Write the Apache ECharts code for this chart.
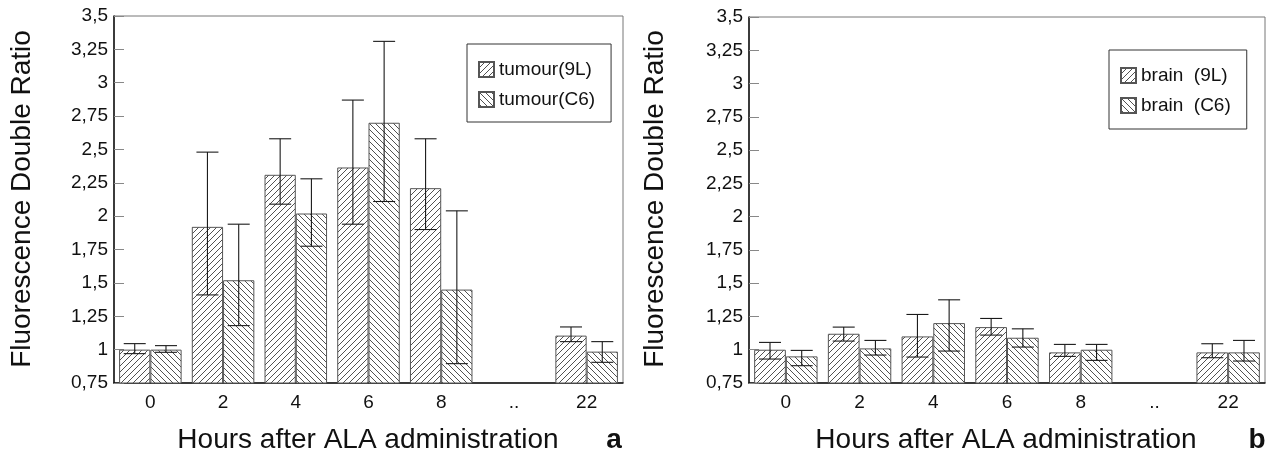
<!DOCTYPE html>
<html>
<head>
<meta charset="utf-8">
<script src="https://cdn.jsdelivr.net/npm/echarts@6/dist/echarts.min.js"></script>
<style>
html, body { margin: 0; padding: 0; background: #fff; }
#charts { width: 1271px; height: 455px; }
</style>
</head>
<body>
<div id="charts"></div>
<script>
var categories = ['0', '2', '4', '6', '8', '..', '22'];
var tickLabels = ['0,75', '1', '1,25', '1,5', '1,75', '2', '2,25', '2,5', '2,75', '3', '3,25', '3,5'];

// panel a: tumour
var tumour9L = [1.0, 1.92, 2.31, 2.365, 2.21, '-', 1.105];
var tumour9LHi = [1.045, 2.48, 2.58, 2.87, 2.58, '-', 1.17];
var tumour9LLo = [0.97, 1.41, 2.09, 1.94, 1.90, '-', 1.06];
var tumourC6 = [1.0, 1.52, 2.02, 2.70, 1.45, '-', 0.985];
var tumourC6Hi = [1.03, 1.94, 2.28, 3.31, 2.04, '-', 1.06];
var tumourC6Lo = [0.98, 1.18, 1.775, 2.11, 0.895, '-', 0.905];

// panel b: brain
var brain9L = [1.0, 1.12, 1.10, 1.17, 0.98, '-', 0.98];
var brain9LHi = [1.055, 1.17, 1.265, 1.235, 1.04, '-', 1.045];
var brain9LLo = [0.93, 1.065, 0.945, 1.11, 0.95, '-', 0.94];
var brainC6 = [0.95, 1.01, 1.20, 1.09, 1.0, '-', 0.98];
var brainC6Hi = [0.995, 1.07, 1.375, 1.157, 1.04, '-', 1.07];
var brainC6Lo = [0.88, 0.96, 0.99, 1.02, 0.92, '-', 0.915];

var FONT = "'Liberation Sans', Arial, sans-serif";
var GAP = 0.14;

function hatch(dir) {
	var s = 6;
	var c = document.createElement('canvas');
	c.width = s; c.height = s;
	var g = c.getContext('2d');
	g.fillStyle = '#fff';
	g.fillRect(0, 0, s, s);
	g.strokeStyle = '#333';
	g.lineWidth = 0.85;
	g.beginPath();
	if (dir > 0) {
		g.moveTo(0, s); g.lineTo(s, 0);
		g.moveTo(-1, 1); g.lineTo(1, -1);
		g.moveTo(s - 1, s + 1); g.lineTo(s + 1, s - 1);
	} else {
		g.moveTo(0, 0); g.lineTo(s, s);
		g.moveTo(s - 1, -1); g.lineTo(s + 1, 1);
		g.moveTo(-1, s - 1); g.lineTo(1, s + 1);
	}
	g.stroke();
	return { image: c, repeat: 'repeat' };
}

function errData(lo, hi) {
	var out = [];
	for (var i = 0; i < lo.length; i++) {
		if (lo[i] === '-') continue;
		out.push([i, lo[i], hi[i]]);
	}
	return out;
}

function errRender(sign) {
	return function (params, api) {
		var a = api.coord([api.value(0), api.value(1)]);
		var b = api.coord([api.value(0), api.value(2)]);
		var band = api.size([1, 0])[0];
		var x = a[0] + sign * band * (1 - GAP) / 4;
		var w = 11;
		var st = { stroke: '#1a1a1a', lineWidth: 1.1 };
		return {
			type: 'group',
			children: [
				{ type: 'line', shape: { x1: x, y1: a[1], x2: x, y2: b[1] }, style: st },
				{ type: 'line', shape: { x1: x - w, y1: b[1], x2: x + w, y2: b[1] }, style: st },
				{ type: 'line', shape: { x1: x - w, y1: a[1], x2: x + w, y2: a[1] }, style: st }
			]
		};
	};
}

function xAxisOf(idx) {
	return {
		type: 'category', gridIndex: idx, data: categories,
		axisLine: { lineStyle: { color: '#111', width: 1.5 } },
		axisTick: { show: false },
		axisLabel: { color: '#111', fontSize: 19, fontFamily: FONT, margin: 10 }
	};
}

function yAxisOf(idx) {
	return {
		type: 'value', gridIndex: idx, min: 0.75, max: 3.5, interval: 0.25,
		splitLine: { show: false },
		axisLine: { show: true, lineStyle: { color: '#111', width: 1.5 } },
		axisTick: { show: true, inside: true, length: 10, lineStyle: { color: '#888' } },
		axisLabel: {
			color: '#111', fontSize: 19, fontFamily: FONT, margin: 6,
			formatter: function (v) { return tickLabels[Math.round((v - 0.75) / 0.25)]; }
		}
	};
}

function barOf(name, idx, data, dir) {
	return {
		name: name, type: 'bar', xAxisIndex: idx, yAxisIndex: idx, data: data,
		barGap: '0%', barCategoryGap: (GAP * 100) + '%',
		itemStyle: { color: hatch(dir), borderColor: '#555', borderWidth: 1 },
		emphasis: { disabled: true }
	};
}

function errOf(idx, lo, hi, sign) {
	return {
		type: 'custom', xAxisIndex: idx, yAxisIndex: idx, z: 5,
		renderItem: errRender(sign), data: errData(lo, hi),
		encode: { x: 0, y: [1, 2] }, silent: true
	};
}

function legendOf(names, left, top, pad) {
	return {
		data: names, orient: 'vertical', left: left, top: top, icon: 'rect',
		padding: pad, itemGap: 11, itemWidth: 15, itemHeight: 15,
		borderColor: '#333', borderWidth: 1, selectedMode: false,
		textStyle: { fontSize: 19, color: '#111', fontFamily: FONT }
	};
}

function txt(text, x, y, size, rot, bold) {
	return {
		type: 'text', x: x, y: y, rotation: rot || 0,
		style: {
			text: text, fontSize: size, fontFamily: FONT, fill: '#111',
			fontWeight: bold ? 'bold' : 'normal', align: 'center', verticalAlign: 'middle'
		}
	};
}

function echart() {
	var chart = echarts.init(document.getElementById('charts'), null, { renderer: 'canvas' });
	var option = {
		backgroundColor: '#fff',
		animation: false,
		grid: [
			{ left: 114, top: 16, width: 509, height: 367, show: true, borderColor: '#777', borderWidth: 1 },
			{ left: 749, top: 17, width: 516, height: 366, show: true, borderColor: '#777', borderWidth: 1 }
		],
		xAxis: [xAxisOf(0), xAxisOf(1)],
		yAxis: [yAxisOf(0), yAxisOf(1)],
		legend: [
			legendOf(['tumour(9L)', 'tumour(C6)'], 467, 44, [16, 16, 13, 11]),
			legendOf(['brain  (9L)', 'brain  (C6)'], 1109, 50, [16, 16, 14, 11])
		],
		graphic: [
			txt('Fluorescence Double Ratio', 22, 199, 28, Math.PI / 2),
			txt('Fluorescence Double Ratio', 655, 199, 28, Math.PI / 2),
			txt('Hours after ALA administration', 368, 440, 28),
			txt('Hours after ALA administration', 1006, 440, 28),
			txt('a', 614, 440, 28, 0, true),
			txt('b', 1257, 440, 28, 0, true)
		],
		series: [
			barOf('tumour(9L)', 0, tumour9L, 1),
			barOf('tumour(C6)', 0, tumourC6, -1),
			errOf(0, tumour9LLo, tumour9LHi, -1),
			errOf(0, tumourC6Lo, tumourC6Hi, 1),
			barOf('brain  (9L)', 1, brain9L, 1),
			barOf('brain  (C6)', 1, brainC6, -1),
			errOf(1, brain9LLo, brain9LHi, -1),
			errOf(1, brainC6Lo, brainC6Hi, 1)
		]
	};
	chart.setOption(option);
}

echart();
</script>
</body>
</html>
